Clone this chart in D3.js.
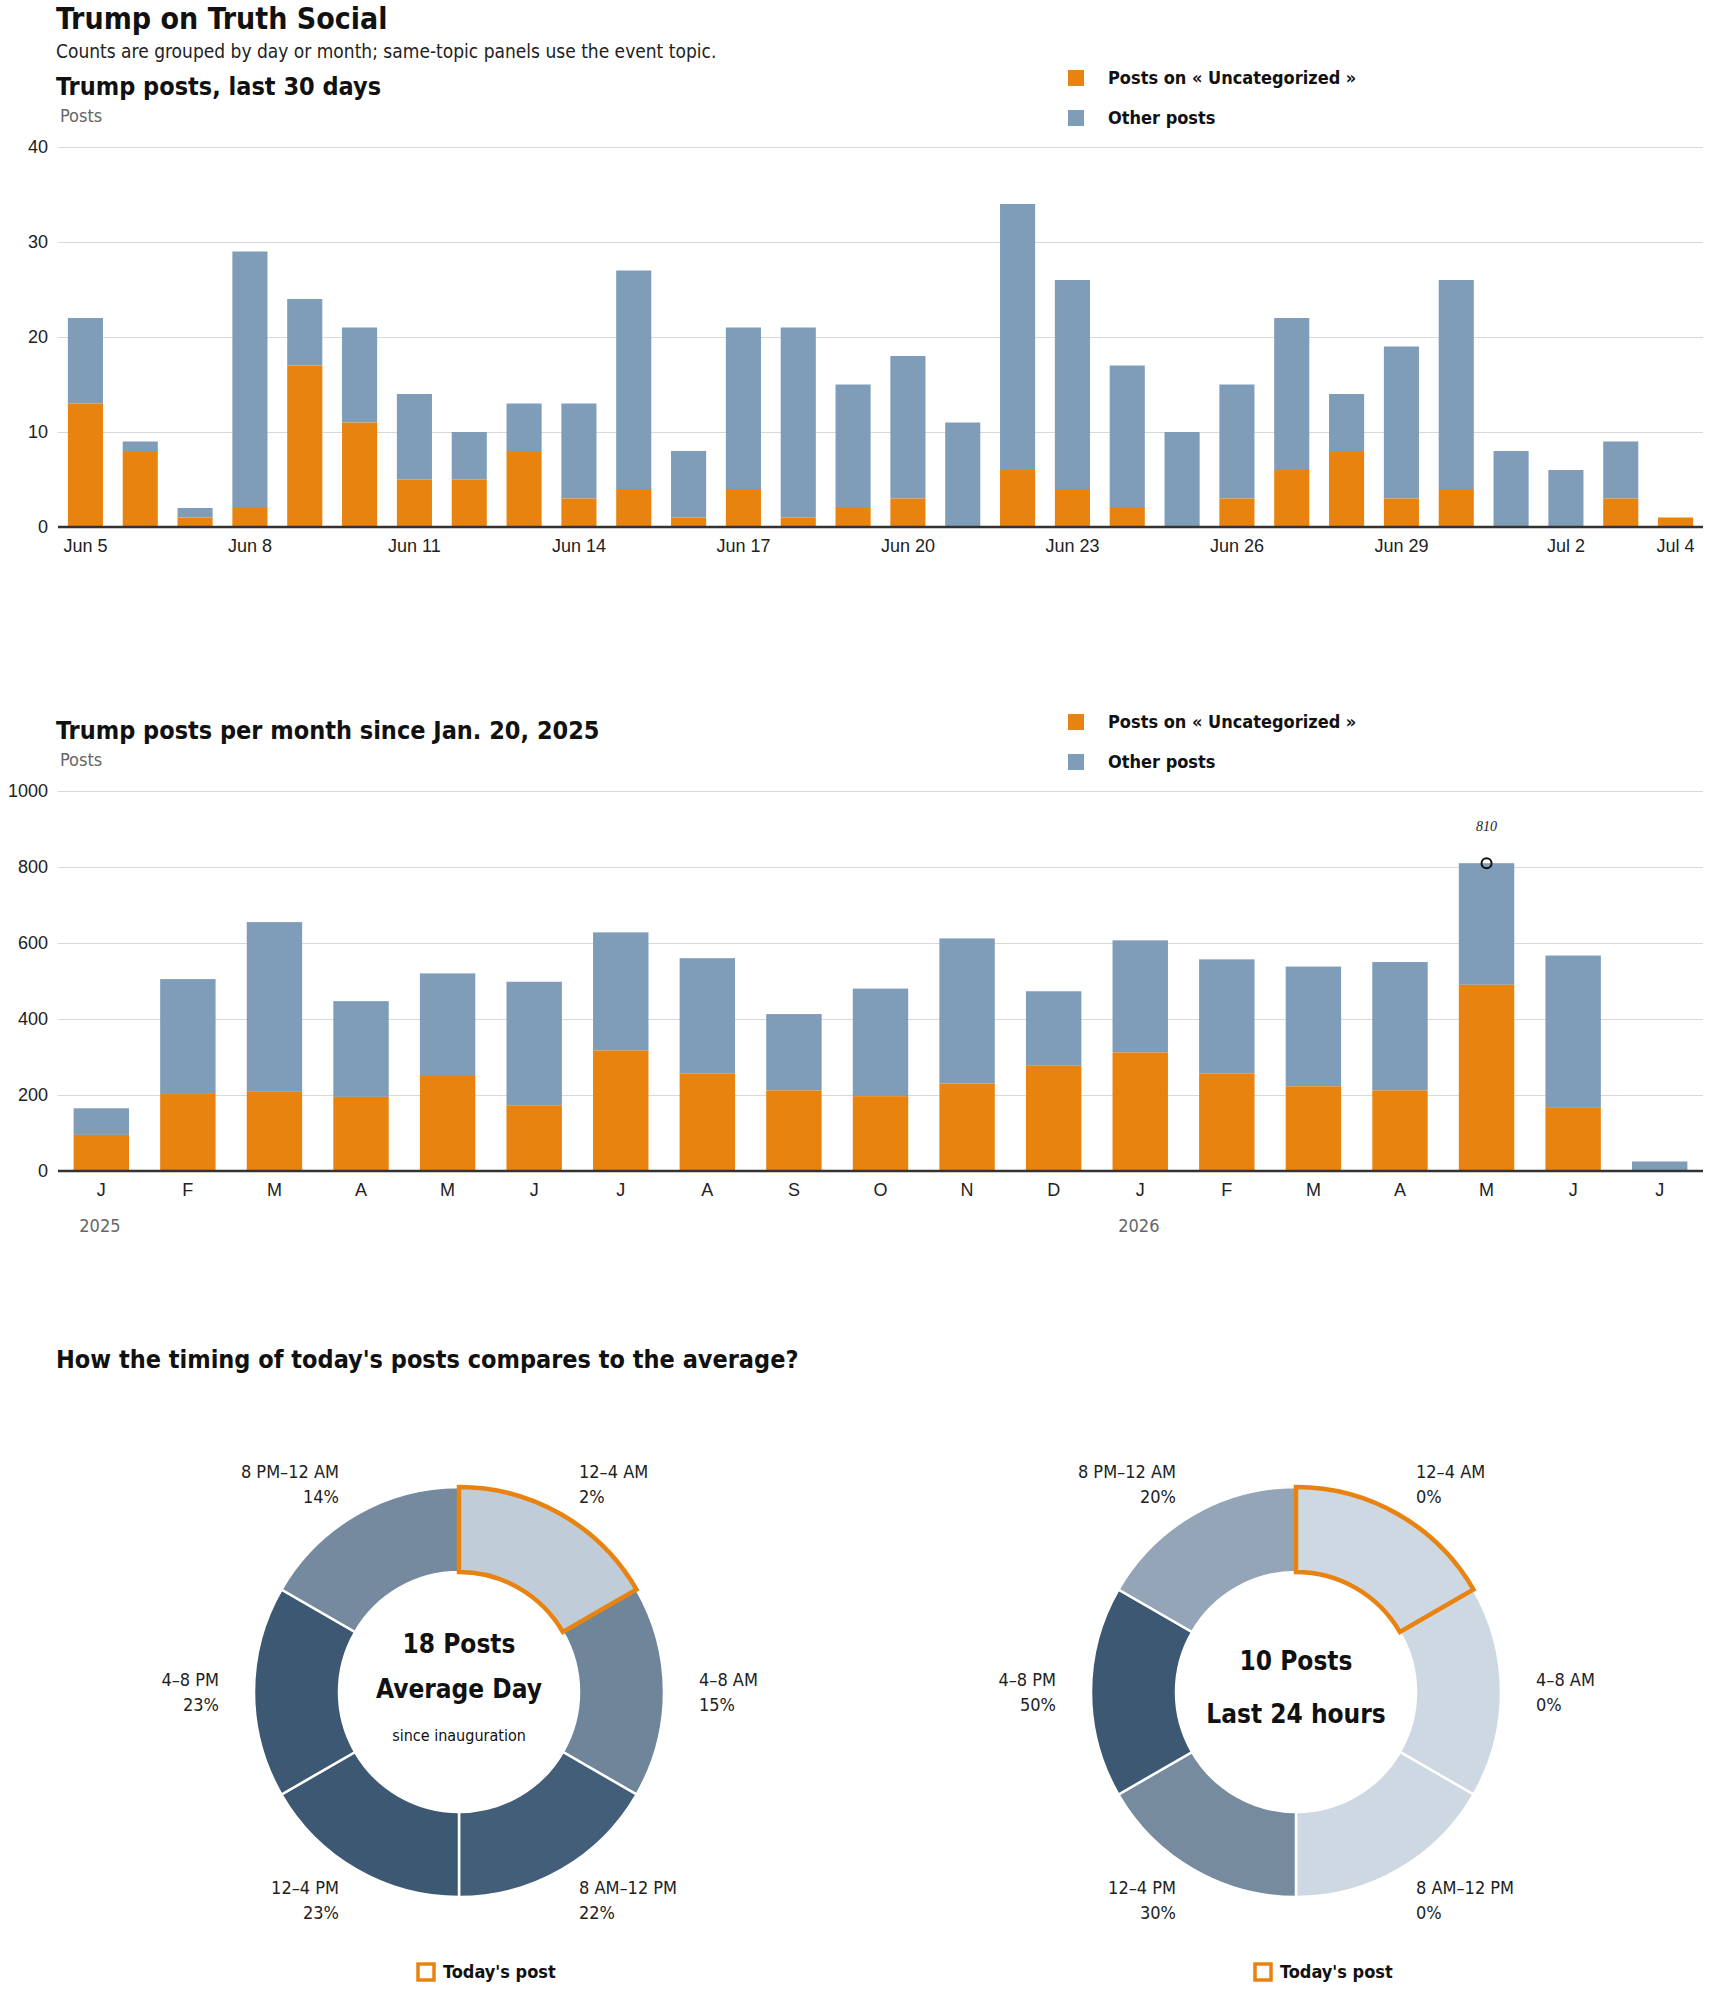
<!DOCTYPE html>
<html><head><meta charset="utf-8">
<script src="https://cdn.jsdelivr.net/npm/d3@7"></script>
<style>
body{margin:0;background:#fff;}
svg{font-family:"Liberation Sans Narrow","DejaVu Sans Condensed",sans-serif;}
</style></head><body>
<svg id="c" width="1710" height="1993"></svg>
<script>
// daily data, Jun 5 - Jul 4
var days = ["Jun 5","Jun 6","Jun 7","Jun 8","Jun 9","Jun 10","Jun 11","Jun 12","Jun 13","Jun 14","Jun 15","Jun 16","Jun 17","Jun 18","Jun 19","Jun 20","Jun 21","Jun 22","Jun 23","Jun 24","Jun 25","Jun 26","Jun 27","Jun 28","Jun 29","Jun 30","Jul 1","Jul 2","Jul 3","Jul 4"];
var dayTotal = [22,9,2,29,24,21,14,10,13,13,27,8,21,21,15,18,11,34,26,17,10,15,22,14,19,26,8,6,9,1];
var dayTopic = [13,8,1,2,17,11,5,5,8,3,4,1,4,1,2,3,0,6,4,2,0,3,6,8,3,4,0,0,3,1];
var dayTicks = ["Jun 5","Jun 8","Jun 11","Jun 14","Jun 17","Jun 20","Jun 23","Jun 26","Jun 29","Jul 2","Jul 4"];

// monthly data, Jan 2025 - Jul 2026
var months = ["2025-01","2025-02","2025-03","2025-04","2025-05","2025-06","2025-07","2025-08","2025-09","2025-10","2025-11","2025-12","2026-01","2026-02","2026-03","2026-04","2026-05","2026-06","2026-07"];
var monthLetters = ["J","F","M","A","M","J","J","A","S","O","N","D","J","F","M","A","M","J","J"];
var monthTotal = [165,505,655,447,520,498,628,560,413,480,612,473,607,557,538,550,810,567,25];
var monthTopic = [95,205,210,195,250,173,317,257,212,197,230,277,312,257,223,212,490,168,0];

// time of day
var slots = ["12–4 AM","4–8 AM","8 AM–12 PM","12–4 PM","4–8 PM","8 PM–12 AM"];
var avgPct = [2,15,22,23,23,14];
var todayPct = [0,0,0,30,50,20];

var ORANGE = "#e8830f", BLUE = "#7f9db9";
var svg = d3.select("#c");

svg.append("text").attr("x",56).attr("y",29).attr("font-size",30).attr("font-weight","bold").attr("fill","#111").text("Trump on Truth Social");
svg.append("text").attr("x",56).attr("y",58).attr("font-size",19).attr("fill","#222").text("Counts are grouped by day or month; same-topic panels use the event topic.");

function legend(y){
  var g = svg.append("g");
  [["Posts on « Uncategorized »",ORANGE],["Other posts",BLUE]].forEach(function(d,i){
    g.append("rect").attr("x",1068).attr("y",y+i*40-8).attr("width",16).attr("height",16).attr("fill",d[1]);
    g.append("text").attr("x",1108).attr("y",y+i*40+6).attr("font-size",18).attr("font-weight","bold").attr("fill","#111").text(d[0]);
  });
}

function barChart(opt){
  var x = d3.scaleBand().domain(opt.cats).range([58,1703]).paddingInner(0.36).paddingOuter(0.18);
  var y = d3.scaleLinear().domain([0,opt.max]).range([opt.y0,opt.y1]);
  svg.append("text").attr("x",56).attr("y",opt.titleY).attr("font-size",25).attr("font-weight","bold").attr("fill","#111").text(opt.title);
  svg.append("text").attr("x",60).attr("y",opt.titleY+27).attr("font-size",18).attr("fill","#666").text("Posts");
  var ga = svg.append("g").attr("transform","translate(58,0)")
    .call(d3.axisLeft(y).ticks(4).tickFormat(d3.format("d")).tickSize(-1645).tickPadding(10));
  ga.select(".domain").remove();
  ga.selectAll("line").attr("stroke","#d9d9d9");
  ga.selectAll("text").attr("font-size",18).attr("fill","#222");
  svg.append("g").selectAll("rect").data(opt.cats).join("rect")
    .attr("x",function(d){return x(d);}).attr("width",x.bandwidth())
    .attr("y",function(d,i){return y(opt.total[i]);})
    .attr("height",function(d,i){return y(opt.topic[i])-y(opt.total[i]);})
    .attr("fill",BLUE);
  svg.append("g").selectAll("rect").data(opt.cats).join("rect")
    .attr("x",function(d){return x(d);}).attr("width",x.bandwidth())
    .attr("y",function(d,i){return y(opt.topic[i]);})
    .attr("height",function(d,i){return y(0)-y(opt.topic[i]);})
    .attr("fill",ORANGE);
  var gx = svg.append("g").attr("transform","translate(0,"+opt.y0+")")
    .call(d3.axisBottom(x).tickValues(opt.ticks).tickFormat(opt.fmt).tickSize(0).tickPadding(12));
  gx.select(".domain").attr("stroke","#333").attr("stroke-width",2.5).attr("d","M58,0H1703");
  gx.selectAll("text").attr("font-size",18).attr("fill","#222");
  return {x:x,y:y};
}

legend(78);
barChart({cats:days,total:dayTotal,topic:dayTopic,max:40,y0:527,y1:147,titleY:95,title:"Trump posts, last 30 days",
  ticks:dayTicks,fmt:function(d){return d;}});

legend(722);
var m = barChart({cats:months,total:monthTotal,topic:monthTopic,max:1000,y0:1171,y1:791,titleY:739,title:"Trump posts per month since Jan. 20, 2025",
  ticks:months,fmt:function(d){return monthLetters[months.indexOf(d)];}});
["2025-01","2026-01"].forEach(function(k){
  svg.append("text").attr("x",m.x(k)+m.x.bandwidth()/2-22).attr("y",1232).attr("font-size",18).attr("fill","#666").text(k.slice(0,4));
});
var imax = monthTotal.indexOf(d3.max(monthTotal));
var cx = m.x(months[imax])+m.x.bandwidth()/2;
svg.append("circle").attr("cx",cx).attr("cy",m.y(monthTotal[imax])).attr("r",5).attr("fill","none").attr("stroke","#111").attr("stroke-width",2);
svg.append("text").attr("x",cx).attr("y",m.y(monthTotal[imax])-32).attr("text-anchor","middle").attr("font-size",14).attr("font-style","italic")
  .attr("font-family","Liberation Serif,serif").attr("fill","#222").text(monthTotal[imax]);

svg.append("text").attr("x",56).attr("y",1368).attr("font-size",25).attr("font-weight","bold").attr("fill","#111").text("How the timing of today's posts compares to the average?");

function donut(cxp, vals, lines){
  var g = svg.append("g").attr("transform","translate("+cxp+",1692)");
  var mx = d3.max(vals);
  var col = function(v){return d3.interpolateRgb("#cdd8e2","#3d5873")(mx?v/mx:0);};
  var pie = d3.pie().value(1).sort(null);
  var arc = d3.arc().innerRadius(120).outerRadius(205);
  var arcs = pie(vals);
  g.selectAll("path").data(arcs).join("path").attr("d",arc)
    .attr("fill",function(d){return col(d.data);}).attr("stroke","#fff").attr("stroke-width",2.5);
  g.append("path").attr("d",arc(arcs[0])).attr("fill","none").attr("stroke",ORANGE).attr("stroke-width",4.5).attr("stroke-linejoin","miter");
  arcs.forEach(function(a,i){
    var ang = (a.startAngle+a.endAngle)/2, r = 240;
    var lx = Math.sin(ang)*r, ly = -Math.cos(ang)*r;
    var anchor = Math.sin(ang)>0 ? "start":"end";
    var t = g.append("text").attr("text-anchor",anchor).attr("font-size",18).attr("fill","#222");
    t.append("tspan").attr("x",lx).attr("y",ly-6).text(slots[i]);
    t.append("tspan").attr("x",lx).attr("y",ly+19).text(vals[i]+"%");
  });
  lines.forEach(function(l){
    g.append("text").attr("text-anchor","middle").attr("y",l[0]).attr("font-size",l[1]).attr("font-weight",l[2]?"bold":"normal").attr("fill","#111").text(l[3]);
  });
  svg.append("rect").attr("x",cxp-41).attr("y",1964).attr("width",16).attr("height",16).attr("fill","none").attr("stroke",ORANGE).attr("stroke-width",3.5);
  svg.append("text").attr("x",cxp-16).attr("y",1978).attr("font-size",18).attr("font-weight","bold").attr("fill","#111").text("Today's post");
}
donut(459, avgPct, [[-39,26,1,"18 Posts"],[6,26,1,"Average Day"],[49,16,0,"since inauguration"]]);
donut(1296, todayPct, [[-22,26,1,"10 Posts"],[31,26,1,"Last 24 hours"]]);
</script></body></html>
